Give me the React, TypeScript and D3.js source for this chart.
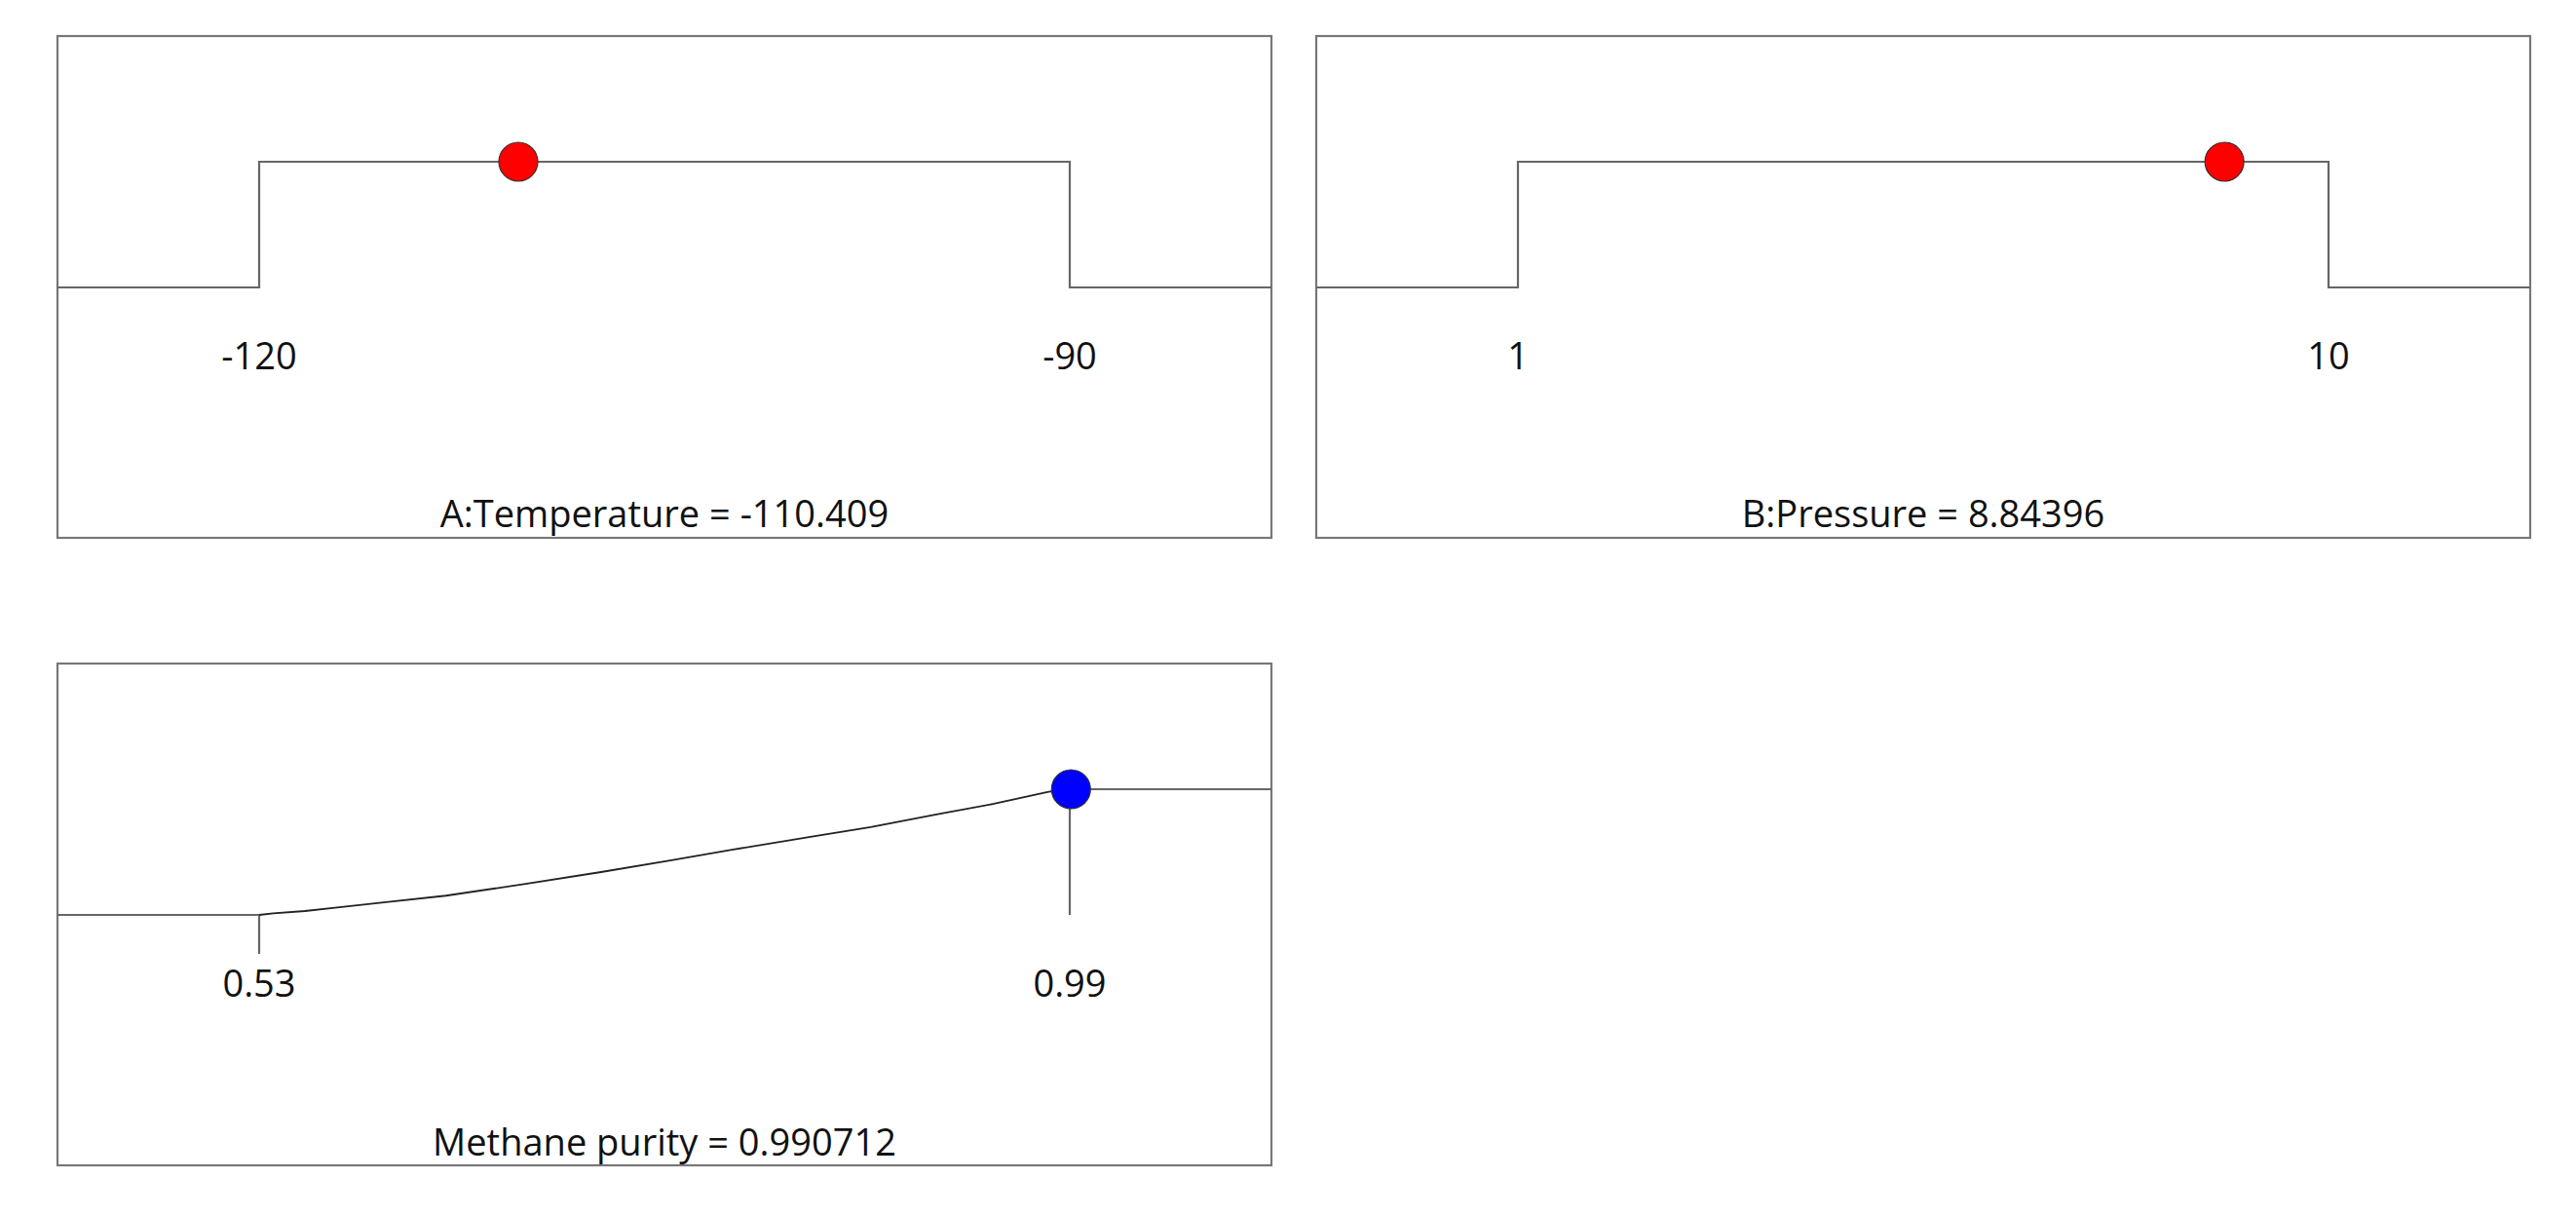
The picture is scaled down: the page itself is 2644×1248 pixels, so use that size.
import React from 'react';
import { scaleLinear, line } from 'd3';

// factor ramps (top row)
const factorNames = ['A:Temperature', 'B:Pressure'];
const factorLow = [-120, 1];
const factorHigh = [-90, 10];
const factorValue = [-110.409, 8.84396];

// response desirability (bottom row)
const responseName = 'Methane purity';
const responseLow = 0.53;
const responseHigh = 0.99;
const responseValue = 0.990712;
// desirability curve
const purityX = [0.53, 0.538, 0.556, 0.573, 0.602, 0.636, 0.683, 0.724, 0.764, 0.799, 0.842, 0.877, 0.915, 0.947, 0.978, 0.99];
const purityD = [0, 0.013, 0.031, 0.057, 0.101, 0.153, 0.251, 0.341, 0.435, 0.52, 0.62, 0.698, 0.801, 0.884, 0.98, 1];

const W = 2644;
const H = 1248;
const panelW = 1246;
const panelH = 515;
const inset = 207;
const fontFam = '"Segoe UI", "Open Sans", "Noto Sans", sans-serif';
const frame = '#777';
const stepColor = '#666';

function Panel({ x0, y0, children }) {
    return <g transform={`translate(${x0},${y0})`}>
        <rect x={0} y={0} width={panelW} height={panelH} fill="white" stroke={frame} strokeWidth={2.2} />
        {children}
    </g>
}

function FactorPanel({ i, x0, y0 }) {
    const xScale = scaleLinear()
        .domain([factorLow[i], factorHigh[i]])
        .range([inset, panelW - inset]);
    const yScale = scaleLinear().domain([0, 1]).range([258, 129]);

    const lo = xScale(factorLow[i]);
    const hi = xScale(factorHigh[i]);
    const path = `M0,${yScale(0)}H${lo}V${yScale(1)}H${hi}V${yScale(0)}H${panelW}`;

    return <Panel x0={x0} y0={y0}>
        <path d={path} fill="none" stroke={stepColor} strokeWidth={2.2} />
        <circle cx={xScale(factorValue[i])} cy={yScale(1)} r={20} fill="#ff0000" stroke="#333" strokeWidth={1.2} />
        {[factorLow[i], factorHigh[i]].map(v =>
            <text key={v} x={xScale(v)} y={342} textAnchor="middle" fontSize={38} fontFamily={fontFam} fill="#111">{v}</text>
        )}
        <text x={panelW / 2} y={504} textAnchor="middle" fontSize={38} fontFamily={fontFam} fill="#111">
            {`${factorNames[i]} = ${factorValue[i]}`}
        </text>
    </Panel>
}

function ResponsePanel({ x0, y0 }) {
    const xScale = scaleLinear()
        .domain([responseLow, responseHigh])
        .range([inset, panelW - inset]);
    const yScale = scaleLinear().domain([0, 1]).range([258, 129]);

    const curve = line()
        .x((d, k) => xScale(purityX[k]))
        .y((d, k) => yScale(purityD[k]));

    const lo = xScale(responseLow);
    const hi = xScale(responseHigh);

    return <Panel x0={x0} y0={y0}>
        <line x1={0} x2={lo} y1={yScale(0)} y2={yScale(0)} stroke={stepColor} strokeWidth={2.2} />
        <line x1={lo} x2={lo} y1={yScale(0)} y2={yScale(0) + 40} stroke={stepColor} strokeWidth={2.2} />
        <path d={curve(purityX)} fill="none" stroke="#222" strokeWidth={1.8} />
        <line x1={hi} x2={hi} y1={yScale(1)} y2={yScale(0)} stroke={stepColor} strokeWidth={2.2} />
        <line x1={hi} x2={panelW} y1={yScale(1)} y2={yScale(1)} stroke={stepColor} strokeWidth={2.2} />
        <circle cx={xScale(responseValue)} cy={yScale(1)} r={20} fill="#0000ff" stroke="#333" strokeWidth={1.2} />
        {[responseLow, responseHigh].map(v =>
            <text key={v} x={xScale(v)} y={342} textAnchor="middle" fontSize={38} fontFamily={fontFam} fill="#111">{v}</text>
        )}
        <text x={panelW / 2} y={505} textAnchor="middle" fontSize={38} fontFamily={fontFam} fill="#111">
            {`${responseName} = ${responseValue}`}
        </text>
    </Panel>
}

export default function App() {
    return <svg width={W} height={H} style={{ position: 'absolute', left: 0, top: 0, background: 'white' }}>
        <rect width={W} height={H} fill="white" />
        <FactorPanel i={0} x0={59} y0={37} />
        <FactorPanel i={1} x0={1351} y0={37} />
        <ResponsePanel x0={59} y0={681} />
    </svg>
}
